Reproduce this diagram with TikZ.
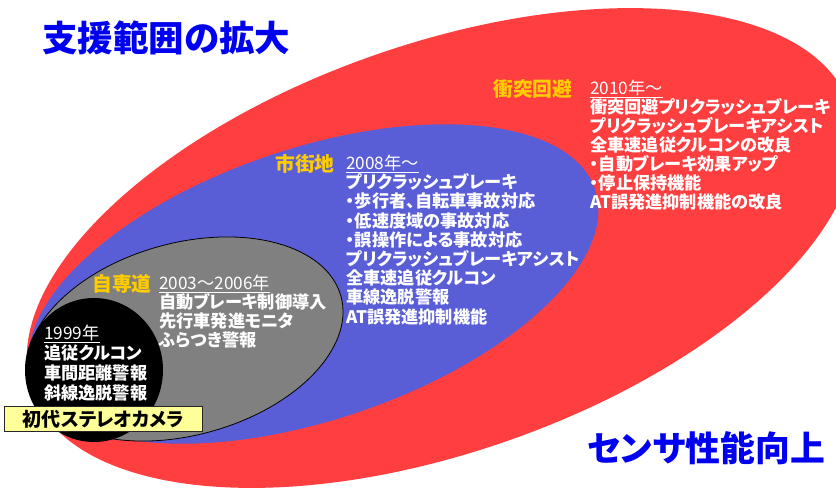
\documentclass[tikz,border=0pt]{standalone}
\usepackage{fontspec}
\setmainfont{Noto Sans CJK JP}[RawFeature=+palt]
\definecolor{ellred}{RGB}{255,62,64}
\definecolor{ellblue}{RGB}{90,94,214}
\definecolor{ellgray}{RGB}{128,128,128}
\definecolor{labelgold}{RGB}{255,204,0}
\definecolor{titleblue}{RGB}{0,0,240}
\definecolor{boxyellow}{RGB}{255,255,153}
\tikzset{
  wtxt/.style={text=white, font=\fontsize{17.2}{19.2}\selectfont\bfseries, anchor=base west, inner sep=0pt},
  ytxt/.style={text=white, font=\fontsize{17.2}{19.2}\selectfont\mdseries, anchor=base west, inner sep=0pt},
  gtxt/.style={text=labelgold, font=\fontsize{19.8}{22}\selectfont\bfseries, anchor=base west, inner sep=0pt},
  ttxt/.style={text=titleblue, font=\fontsize{35.5}{38}\selectfont\bfseries, anchor=base west, inner sep=0pt},
}
\begin{document}
\begin{tikzpicture}[x=1pt,y=-1pt]
\useasboundingbox (0,0) rectangle (836,488);
\clip (0,0) rectangle (836,488);
% nested ellipses
\fill[ellred, rotate around={19.3:(441,248)}] (441,248) ellipse [x radius=433pt, y radius=204pt];
\fill[ellblue, rotate around={18.55:(313.5,284)}] (313.5,284) ellipse [x radius=297pt, y radius=135.8pt];
\filldraw[fill=ellgray, draw=black, line width=0.8pt, rotate around={15.3:(185,339)}] (185,339) ellipse [x radius=161.7pt, y radius=96.1pt];
\fill[black] (94,370) ellipse [x radius=69pt, y radius=72pt];
% titles
\node[ttxt] (title) at (42,{38+13.4}) {支援範囲の拡大};
\node[ttxt, font=\fontsize{34.8}{38}\selectfont\bfseries] (sensor) at (587,{448+13.2}) {センサ性能向上};
% collision avoidance
\node[gtxt] (lc) at (493,{89+7.5}) {衝突回避};
\node[ytxt] (c0) at (590,{88+6.55}) {\underline{2010年～}};
\foreach \t [count=\i] in {衝突回避プリクラッシュブレーキ,プリクラッシュブレーキアシスト,全車速追従クルコンの改良,・自動ブレーキ効果アップ,・停止保持機能,AT誤発進抑制機能の改良}
  \node[wtxt] (c\i) at (590,{88+6.55+19*\i}) {\t};
% city
\node[gtxt] (ls) at (275,{164+7.5}) {市街地};
\node[ytxt] (s0) at (346,{163+6.55}) {\underline{2008年～}};
\foreach \t [count=\i] in {プリクラッシュブレーキ,・歩行者、自転車事故対応,・低速度域の事故対応,・誤操作による事故対応,プリクラッシュブレーキアシスト,全車速追従クルコン,車線逸脱警報,AT誤発進抑制機能}
  \node[wtxt] (s\i) at (346,{163+6.55+19.2*\i}) {\t};
% expressway
\node[gtxt] (le) at (92,{284+7.5}) {自専道};
\node[ytxt] (e0) at (159,{283+6.55}) {\underline{2003～2006年}};
\foreach \t [count=\i] in {自動ブレーキ制御導入,先行車発進モニタ,ふらつき警報}
  \node[wtxt] (e\i) at (159,{283+6.55+19*\i}) {\t};
% 1999
\node[ytxt] (f0) at (44,{333+6.55}) {\underline{1999年}};
\foreach \t [count=\i] in {追従クルコン,車間距離警報,斜線逸脱警報}
  \node[wtxt] (f\i) at (44,{333+6.55+20*\i}) {\t};
% first stereo camera box
\node[draw=black!85, line width=1pt, fill=boxyellow, anchor=north west, minimum width=198pt, minimum height=25pt, inner sep=0pt, text=black, font=\fontsize{19}{22}\selectfont\bfseries] (box) at (4,406) {初代ステレオカメラ};
\end{tikzpicture}
\end{document}
